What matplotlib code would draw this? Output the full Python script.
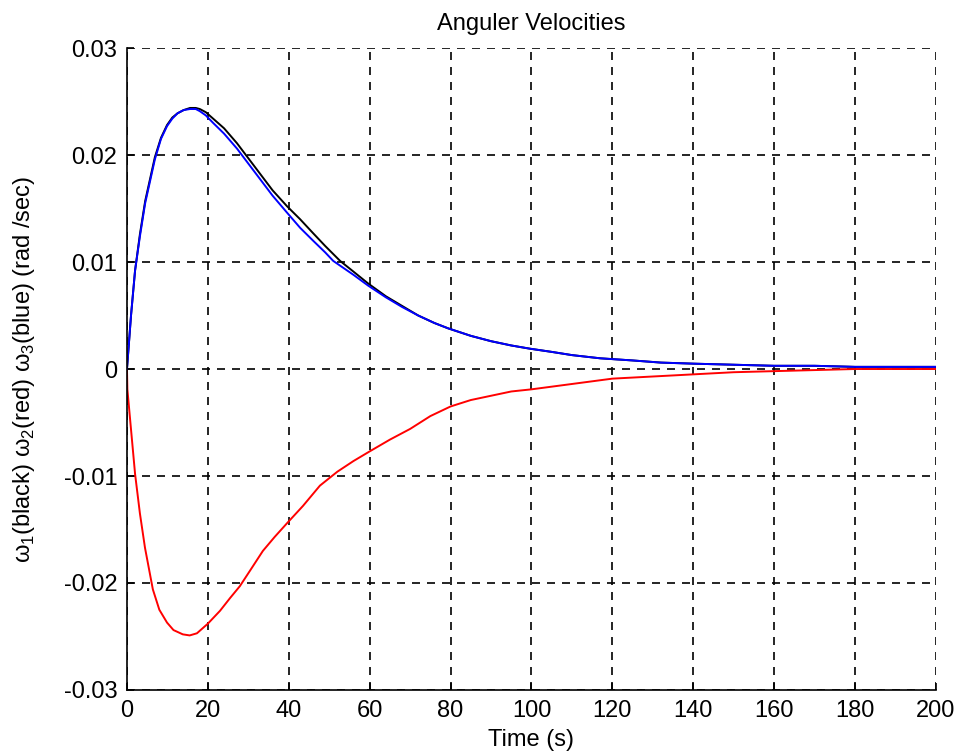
import numpy as np
import matplotlib
matplotlib.use('Agg')
import matplotlib.pyplot as plt

plt.rcParams['font.family'] = ['Liberation Sans', 'DejaVu Sans']
plt.rcParams['mathtext.fontset'] = 'custom'
plt.rcParams['mathtext.rm'] = 'Liberation Sans'

# Time samples (s) and angular velocities
t_black = [0, 0.5, 1, 2, 3.2, 4.5, 6.9, 8.4, 9.9, 11.2, 12.5, 14, 15.6, 17, 18, 19.5,
           21.3, 24, 27.2, 30, 33, 36, 39.6, 42.8, 46, 49, 52.7, 56, 59.6, 64, 68,
           72, 76, 79.4, 85, 90, 95, 99.6, 105, 110, 117, 125, 132, 140, 150, 160,
           170, 180, 190, 200]
w1_black = [0, 0.0025, 0.005, 0.0092, 0.0126, 0.0157, 0.0198, 0.0216, 0.0228, 0.0235,
            0.0239, 0.0242, 0.0244, 0.0244, 0.0243, 0.0240, 0.0234, 0.0225, 0.0211,
            0.0197, 0.0182, 0.0167, 0.0152, 0.0140, 0.0127, 0.0115, 0.0101, 0.0091,
            0.0080, 0.0068, 0.0059, 0.0050, 0.0043, 0.0038, 0.0031, 0.0026, 0.0022,
            0.0019, 0.0016, 0.0013, 0.0010, 0.0008, 0.0006, 0.0005, 0.0004, 0.0003,
            0.0003, 0.0002, 0.0002, 0.0002]

t_blue = [0, 0.5, 1, 2, 3.2, 4.5, 6.9, 8.4, 9.9, 11.2, 12.5, 14, 15.6, 17, 18, 19.5,
          21.3, 24, 27.2, 30, 33, 36, 39.6, 42.8, 46, 49, 51, 56, 59.6, 64, 68,
          72, 76, 79.4, 85, 90, 95, 99.6, 105, 110, 117, 125, 132, 140, 150, 160,
          170, 180, 190, 200]
w3_blue = [0, 0.0025, 0.005, 0.0092, 0.0124, 0.0155, 0.0196, 0.0215, 0.0227, 0.0234,
           0.0239, 0.0242, 0.0243, 0.0243, 0.0241, 0.0237, 0.0230, 0.0220, 0.0206,
           0.0192, 0.0177, 0.0162, 0.0146, 0.0132, 0.0120, 0.0109, 0.0101, 0.0088,
           0.0078, 0.0067, 0.0058, 0.0050, 0.0043, 0.0038, 0.0031, 0.0026, 0.0022,
           0.0019, 0.0016, 0.0013, 0.0010, 0.0008, 0.0006, 0.0005, 0.0004, 0.0003,
           0.0003, 0.0002, 0.0002, 0.0002]

t_red = [0, 0.1, 0.7, 2.0, 3.2, 4.45, 6.4, 8, 9.9, 11.5, 13.8, 15.5, 17.3, 20, 23,
         25.5, 27.9, 30.5, 33.6, 36.5, 39.6, 43.5, 47.7, 52, 56, 60, 65, 70, 75,
         80, 85, 90, 95, 100, 110, 120, 130, 140, 150, 160, 170, 180, 190, 200]
w2_red = [0, -0.0019, -0.0044, -0.0098, -0.0135, -0.0167, -0.0206, -0.0225, -0.0237,
          -0.0244, -0.0248, -0.0249, -0.0247, -0.0238, -0.0226, -0.0214, -0.0203,
          -0.0188, -0.0170, -0.0157, -0.0144, -0.0128, -0.0109, -0.0096, -0.0086,
          -0.0077, -0.0066, -0.0056, -0.0044, -0.0035, -0.0029, -0.0025, -0.0021,
          -0.0019, -0.0014, -0.0009, -0.0007, -0.0005, -0.0003, -0.0002, -0.0001,
          0.0, 0.0, 0.0]

x_ticks = list(range(0, 201, 20))
y_ticks = [-0.03, -0.02, -0.01, 0, 0.01, 0.02, 0.03]
y_labels = ['-0.03', '-0.02', '-0.01', '0', '0.01', '0.02', '0.03']

fig = plt.figure(figsize=(9.59, 7.54), dpi=100)
ax = fig.add_axes([0.1324, 0.0849, 0.8436, 0.8514])

ax.plot(t_black, w1_black, color='black', linewidth=1.4)
ax.plot(t_red, w2_red, color='red', linewidth=1.4)
ax.plot(t_blue, w3_blue, color='blue', linewidth=1.4)

ax.set_xlim(0, 200)
ax.set_ylim(-0.03, 0.03)
ax.set_xticks(x_ticks)
ax.set_yticks(y_ticks)
ax.set_yticklabels(y_labels)
ax.tick_params(direction='in', length=5, width=1.2, labelsize=17, pad=7)
ax.grid(True, color='black', linestyle=(0, (4.8, 4.2)), linewidth=1.2)
ax.spines['top'].set_visible(False)
ax.spines['right'].set_visible(False)
ax.spines['left'].set_linewidth(1.2)
ax.spines['bottom'].set_linewidth(1.2)

ax.set_title('Anguler Velocities', fontsize=17, pad=13)
ax.set_xlabel('Time (s)', fontsize=17, labelpad=5)
ax.set_ylabel(r'ω$_1$(black) ω$_2$(red) ω$_3$(blue) (rad /sec)', fontsize=17, labelpad=19)

fig.savefig('out.png', dpi=100)
